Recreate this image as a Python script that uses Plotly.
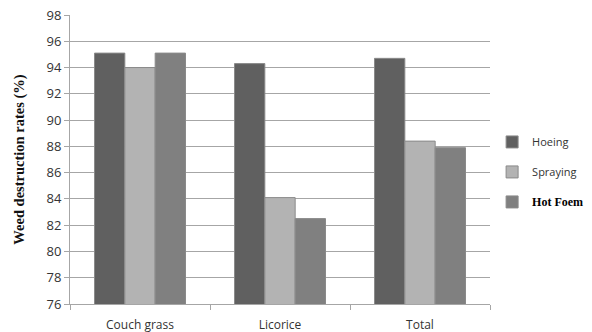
import plotly.graph_objects as go

categories = ["Couch grass", "Licorice", "Total"]
hoeing = [95.1, 94.3, 94.7]
spraying = [94.0, 84.1, 88.4]
hot_foem = [95.1, 82.5, 87.9]
series_names = ["Hoeing", "Spraying",
                "<span style='font-family:Liberation Serif;font-size:12px;color:#000'><b>Hot Foem</b></span>"]
colors = ["#606060", "#b3b3b3", "#808080"]
y_ticks = list(range(76, 99, 2))

fig = go.Figure()
for i, (name, vals) in enumerate(zip(series_names, [hoeing, spraying, hot_foem])):
    fig.add_trace(go.Bar(
        x=categories, y=vals, name=name, legendgroup=str(i),
        marker=dict(color=colors[i], line=dict(color="#8a8a8a", width=1)),
    ))

fig.update_layout(
    width=592, height=332,
    margin=dict(l=70, r=102, t=15, b=28, autoexpand=False),
    paper_bgcolor="white", plot_bgcolor="white",
    barmode="group", bargap=0.35, bargroupgap=0,
    showlegend=True,
    legend=dict(
        x=0.005, xref="paper", y=0.457, xanchor="left", yanchor="middle",
        tracegroupgap=11, itemwidth=30,
        font=dict(family="Open Sans, Arial", size=11, color="#333333"),
    ),
    font=dict(family="Open Sans, Arial", size=11, color="#333333"),
)
fig.layout.legend.x = 1.005
fig.update_yaxes(
    range=[76, 98], tickvals=y_ticks, showgrid=True, gridcolor="#a6a6a6", gridwidth=1,
    showline=True, linecolor="#a6a6a6", linewidth=1,
    ticks="outside", ticklen=5, tickcolor="#a6a6a6",
    tickfont=dict(family="Open Sans, Arial", size=13, color="#333333"),
    title=dict(text="<b>Weed destruction rates (%)</b>",
               font=dict(family="Liberation Serif, Times New Roman", size=14.5, color="#111111"),
               standoff=18),
    zeroline=False,
)
fig.update_xaxes(
    showline=True, linecolor="#a6a6a6", linewidth=1,
    ticks="outside", ticklen=5, tickcolor="#a6a6a6", tickson="boundaries",
    ticklabelstandoff=10,
    tickfont=dict(family="Open Sans, Arial", size=12, color="#333333"),
)
fig.write_html("out.html")
